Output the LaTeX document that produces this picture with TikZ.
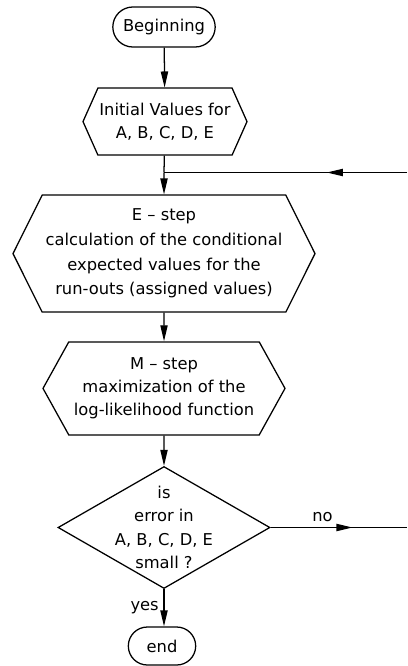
\documentclass[tikz,border=0pt]{standalone}
\usepackage{fontspec}
\setmainfont{DejaVu Sans}
\usetikzlibrary{shapes.misc,shapes.symbols,shapes.geometric,arrows.meta,decorations.markings}
\tikzset{
  term/.style={draw, rounded rectangle, inner sep=2pt},
  hexbox/.style={draw, signal, signal to=west and east, align=center, inner sep=1pt},
  midarrow/.style={postaction={decorate}, decoration={markings, mark=at position #1 with {\arrow{>}}}}
}
\begin{document}
\begin{tikzpicture}[line width=0.9pt, >={Triangle[length=4mm,width=1.8mm]},
    font=\fontsize{11.6}{16.5}\selectfont]
\useasboundingbox (0,0) rectangle (10.175,-16.65);
\node[term, minimum width=2.7cm, minimum height=1cm] (begin) at (4.1,-0.675) {Beginning};
\node[hexbox, minimum width=4.1cm, minimum height=1.675cm, signal pointer angle=132] (init) at (4.125,-3.04) {Initial Values for\\A, B, C, D, E};
\coordinate (join) at (4.1,-4.3125);
\coordinate (loopin) at (10.175,-4.3125);
\node[hexbox, minimum width=7.55cm, minimum height=2.925cm, signal pointer angle=127, font=\fontsize{11.6}{17.5}\selectfont] (estep) at (4.1,-6.34) {E -- step\\calculation of the conditional\\expected values for the\\run-outs (assigned values)};
\node[hexbox, minimum width=6.05cm, minimum height=2.325cm, signal pointer angle=122] (mstep) at (4.1,-9.71) {M -- step\\maximization of the\\log-likelihood function};
\node[draw, diamond, minimum width=5.3cm, minimum height=3.05cm] (test) at (4.1,-13.1875) {};
\node[align=center] (testtext) at (test) {is\\error in\\A, B, C, D, E\\small ?};
\coordinate (noout) at (10.175,-13.1875);
\node[term, minimum width=1.825cm, minimum height=0.95cm] (end) at (4.05,-16.15) {end};

\draw[->] (begin) -- (init);
\draw (init) -- (join);
\draw[->] (join) -- (estep);
\draw[midarrow=0.33] (loopin) -- (join);
\draw[->] (estep) -- (mstep);
\draw[->] (mstep) -- (test);
\draw[midarrow=0.6] (test.east) -- node[pos=0.38, above]{no} (noout);
\draw[->] (test.south) -- node[left]{yes} (end.north -| test.south);
\end{tikzpicture}
\end{document}
